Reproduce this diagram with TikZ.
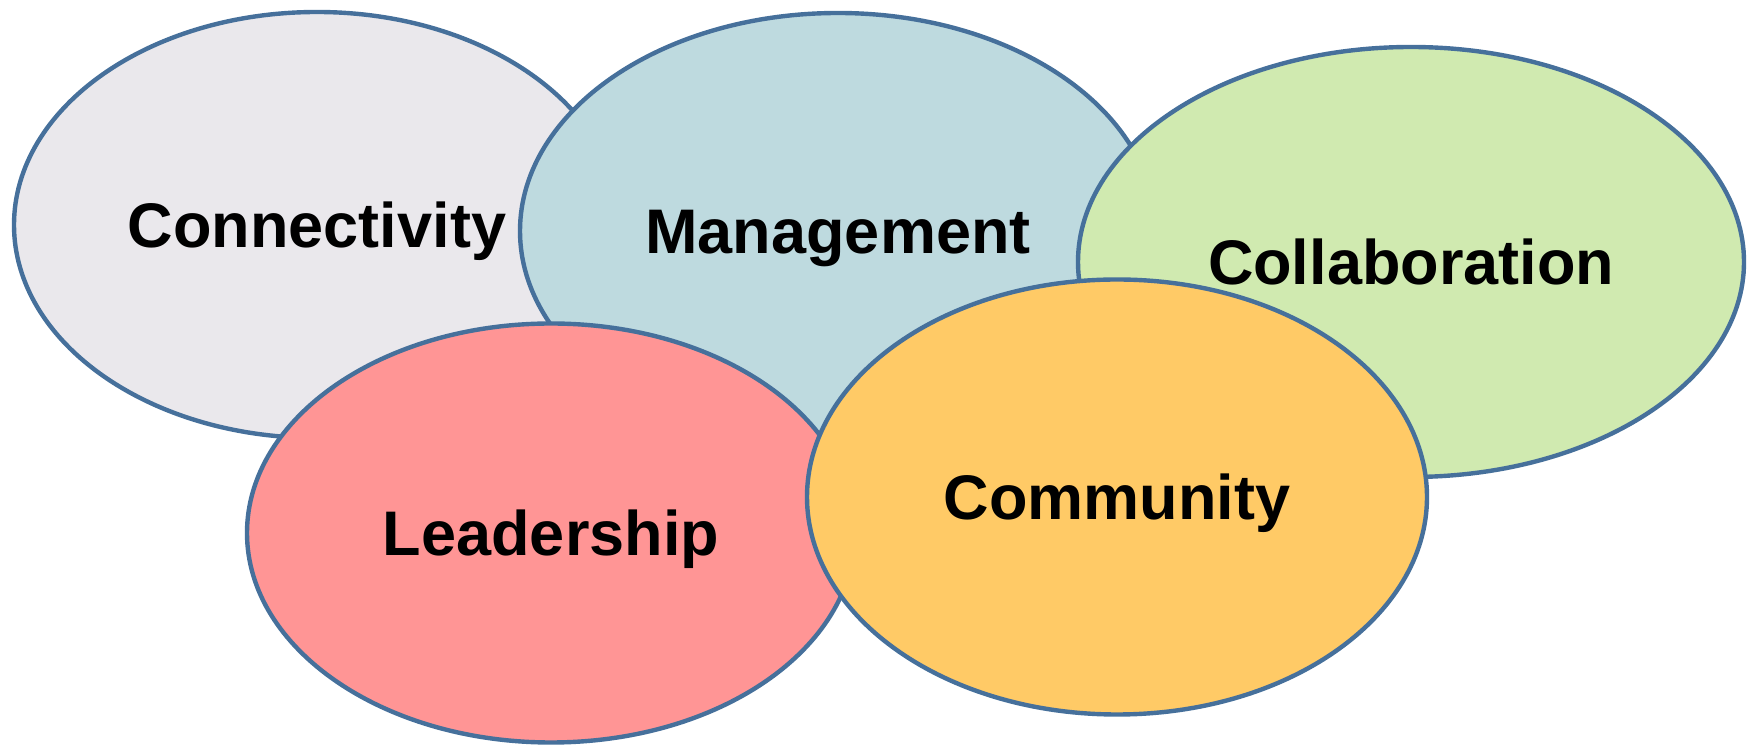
\documentclass[tikz,border=0pt]{standalone}
\usepackage{fontspec}
\setmainfont{Liberation Sans}
\usetikzlibrary{shapes.geometric}
\definecolor{rim}{RGB}{70,112,155}
\definecolor{greyish}{RGB}{234,232,236}
\definecolor{blueish}{RGB}{190,218,223}
\definecolor{greenish}{RGB}{208,234,176}
\definecolor{pinkish}{RGB}{255,149,149}
\definecolor{orangish}{RGB}{255,202,102}
\begin{document}
\begin{tikzpicture}[x=0.5pt,y=-0.5pt,
    bubble/.style={ellipse,draw=rim,line width=2.2pt,inner sep=0pt,
      font=\bfseries\fontsize{31.5}{36}\selectfont,text height=22.6pt,text depth=0pt}]
            \useasboundingbox (0,0) rectangle (1752,747);
            % back row first, front row on top
            \node[bubble,fill=greyish,minimum width=303pt,minimum height=213pt] (conn) at (317,225) {Connectivity};
            \node[bubble,fill=blueish,minimum width=318pt,minimum height=218pt] (manag) at (838,231) {Management};
            \node[bubble,fill=greenish,minimum width=333pt,minimum height=215pt] (collab) at (1411,262) {Collaboration};
            \node[bubble,fill=pinkish,minimum width=304pt,minimum height=209.5pt] (lead) at (551,533) {Leadership};
            \node[bubble,fill=orangish,minimum width=310pt,minimum height=217.5pt] (comm) at (1117,497) {Community};
        \end{tikzpicture}
\end{document}
